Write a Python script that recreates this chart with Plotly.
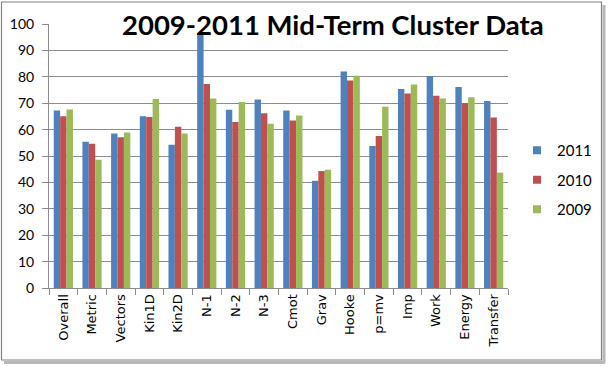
import plotly.graph_objects as go

categories = ["Overall", "Metric", "Vectors", "Kin1D", "Kin2D", "N-1", "N-2", "N-3",
              "Cmot", "Grav", "Hooke", "p=mv", "Imp", "Work", "Energy", "Transfer"]
y2011 = [67.2, 55.4, 58.5, 65.1, 54.3, 96.6, 67.5, 71.4, 67.2, 40.6, 82.0, 53.8, 75.4, 80.3, 76.1, 70.8]
y2010 = [65.1, 54.6, 57.1, 64.8, 61.1, 77.3, 62.9, 66.2, 63.4, 44.3, 78.6, 57.6, 73.7, 72.8, 70.0, 64.6]
y2009 = [67.6, 48.6, 58.9, 71.6, 58.5, 71.8, 70.5, 62.2, 65.3, 44.8, 80.4, 68.7, 77.1, 71.8, 72.3, 43.7]
series_names = ["2011", "2010", "2009"]
colors = ["#4F81BD", "#C0504D", "#9BBB59"]
title_text = "2009-2011 Mid-Term Cluster Data"

W, H = 608, 366
L, R, T, B = 49, 100, 24, 78
PW, PH = W - L - R, H - T - B


def px2x(px):
    return (px - L) / PW


def px2y(py):
    return (H - B - py) / PH


fig = go.Figure()
for name, vals, col in zip(series_names, [y2011, y2010, y2009], colors):
    fig.add_trace(go.Bar(x=categories, y=vals, name=name, marker_color=col,
                         marker_line_width=0, showlegend=False, legendgroup=name))
for name, col in zip(series_names, colors):
    fig.add_trace(go.Scatter(x=[None], y=[None], mode="markers", name=name,
                             legendgroup=name,
                             marker=dict(symbol="square", size=8, color=col)))

shapes = [
    # shadow
    dict(type="line", xref="paper", yref="paper", x0=px2x(604), x1=px2x(604),
         y0=px2y(5), y1=px2y(363), line=dict(color="#b8b8b8", width=3)),
    dict(type="line", xref="paper", yref="paper", x0=px2x(4), x1=px2x(605),
         y0=px2y(362.5), y1=px2y(362.5), line=dict(color="#b8b8b8", width=3)),
    # frame
    dict(type="rect", xref="paper", yref="paper", x0=px2x(1.5), x1=px2x(601.5),
         y0=px2y(360), y1=px2y(2), line=dict(color="#808080", width=1.2)),
]

fig.update_layout(
    width=W, height=H,
    margin=dict(l=L, r=R, t=T, b=B, autoexpand=False),
    paper_bgcolor="white", plot_bgcolor="white",
    barmode="group", bargap=0.33, bargroupgap=0,
    font=dict(family="Lato", color="#000000"),
    shapes=shapes,
    showlegend=True,
    legend=dict(x=px2x(517), xanchor="left", y=px2y(180), yanchor="middle",
                font=dict(family="Lato", size=15, color="#000000"),
                tracegroupgap=7, bgcolor="rgba(0,0,0,0)", itemwidth=30),
    annotations=[dict(text="<b>" + title_text + "</b>", xref="paper", yref="paper",
                      x=px2x(333), y=px2y(24), xanchor="center", yanchor="middle",
                      showarrow=False, font=dict(family="Lato", size=27.5, color="#000000"))],
)
fig.update_yaxes(range=[0, 100], dtick=10, tick0=0, showgrid=True, gridcolor="#8c8c8c",
                 gridwidth=1, showline=True, linecolor="#8c8c8c", linewidth=1,
                 ticks="outside", ticklen=6, tickcolor="#8c8c8c",
                 tickfont=dict(family="Lato", size=14, color="#000000"),
                 ticklabelstandoff=5, zeroline=False)
fig.update_xaxes(showline=True, linecolor="#8c8c8c", linewidth=1,
                 ticks="outside", tickson="boundaries", ticklen=6, tickcolor="#8c8c8c",
                 tickangle=-90, tickfont=dict(family="DejaVu Sans", size=13, color="#000000"),
                 showgrid=False)

fig.write_html("out.html", config={"displayModeBar": False},
               post_script="document.body.style.margin='0';document.body.style.overflow='hidden';")
